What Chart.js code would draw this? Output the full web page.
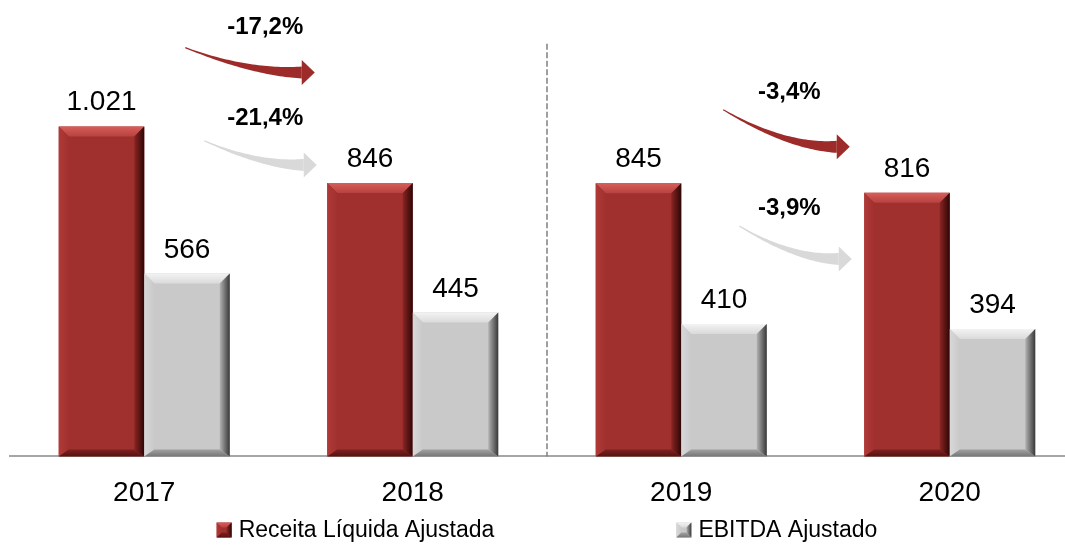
<!DOCTYPE html>
<html>
<head>
<meta charset="utf-8">
<script src="https://cdn.jsdelivr.net/npm/chart.js@4.4.1/dist/chart.umd.min.js"></script>
<style>
  html, body { margin: 0; padding: 0; background: #fff; overflow: hidden; }
  #wrap { width: 1085px; height: 545px; }
</style>
</head>
<body>
<div id="wrap"><canvas id="bar-chart" width="1085" height="545"></canvas></div>
<script>
const categories = ["2017", "2018", "2019", "2020"];
const receita = [1021, 846, 845, 816];
const ebitda = [566, 445, 410, 394];
const seriesNames = ["Receita Líquida Ajustada", "EBITDA Ajustado"];
const changeLabels = ["-17,2%", "-21,4%", "-3,4%", "-3,9%"];

const FONT = "'Liberation Sans', Arial, sans-serif";

const RED = {
  face: "#A0302E",
  top: ["#D65E5B", "#B8423F"],
  right: ["#8A2523", "#2E0606"],
  left: ["#B03A38", "#A0302E"],
  bottom: ["#7E201F", "#561212"],
};
const GREY = {
  face: "#C9C9C9",
  top: ["#F3F3F3", "#DADADA"],
  right: ["#B2B2B2", "#383838"],
  left: ["#D8D8D8", "#C9C9C9"],
  bottom: ["#A2A2A2", "#767676"],
};
const palettes = [RED, GREY];

// arrows between years: x offsets (px) from category centres, y in data units
const arrows = [
  { text: changeLabels[0], color: "#9C2B29", from: 0, to: 1, sx: 41, sy: 1265, ex: -98, ey: 1188, tx: 121, ty: 1327 },
  { text: changeLabels[1], color: "#D9D9D9", from: 0, to: 1, sx: 60, sy: 977, ex: -96, ey: 902, tx: 121, ty: 1047 },
  { text: changeLabels[2], color: "#9C2B29", from: 2, to: 3, sx: 42, sy: 1073, ex: -100, ey: 958, tx: 108, ty: 1128 },
  { text: changeLabels[3], color: "#D9D9D9", from: 2, to: 3, sx: 58, sy: 713, ex: -98, ey: 611, tx: 108, ty: 766 },
];

const fmt = (v) => String(v).replace(/\B(?=(\d{3})+(?!\d))/g, ".");

function poly(ctx, pts, fill) {
  ctx.beginPath();
  ctx.moveTo(pts[0][0], pts[0][1]);
  for (let i = 1; i < pts.length; i++) ctx.lineTo(pts[i][0], pts[i][1]);
  ctx.closePath();
  ctx.fillStyle = fill;
  ctx.fill();
}

function drawBevel(ctx, L, T, R, B, b, bb, pal) {
  let g = ctx.createLinearGradient(0, T, 0, T + b);
  g.addColorStop(0, pal.top[0]);
  g.addColorStop(1, pal.top[1]);
  poly(ctx, [[L, T], [R, T], [R - b, T + b], [L + b, T + b]], g);

  g = ctx.createLinearGradient(L, 0, L + b, 0);
  g.addColorStop(0, pal.left[0]);
  g.addColorStop(1, pal.left[1]);
  poly(ctx, [[L, T], [L + b, T + b], [L + b, B - bb], [L, B]], g);

  g = ctx.createLinearGradient(0, B - bb, 0, B);
  g.addColorStop(0, pal.bottom[0]);
  g.addColorStop(1, pal.bottom[1]);
  poly(ctx, [[L, B], [L + b, B - bb], [R - b, B - bb], [R, B]], g);

  g = ctx.createLinearGradient(R - b, 0, R, 0);
  g.addColorStop(0, pal.right[0]);
  g.addColorStop(1, pal.right[1]);
  poly(ctx, [[R, T], [R, B], [R - b, B - bb], [R - b, T + b]], g);
}

function drawArrow(ctx, S, E, color) {
  const hl = 13, hw = 12.5;
  const hb = [E[0] - hl, E[1]];
  const C = [S[0] + 0.55 * (hb[0] - S[0]), hb[1]];
  const n = 40, left = [], right = [];
  for (let i = 0; i <= n; i++) {
    const t = i / n, u = 1 - t;
    const x = u * u * S[0] + 2 * u * t * C[0] + t * t * hb[0];
    const y = u * u * S[1] + 2 * u * t * C[1] + t * t * hb[1];
    const dx = 2 * u * (C[0] - S[0]) + 2 * t * (hb[0] - C[0]);
    const dy = 2 * u * (C[1] - S[1]) + 2 * t * (hb[1] - C[1]);
    const len = Math.hypot(dx, dy) || 1;
    const w = (0.6 + 5.4 * Math.pow(t, 1.3));
    left.push([x - (dy / len) * w, y + (dx / len) * w]);
    right.push([x + (dy / len) * w, y - (dx / len) * w]);
  }
  poly(ctx, left.concat(right.reverse()), color);
  poly(ctx, [[hb[0], hb[1] - hw], [E[0], E[1]], [hb[0], hb[1] + hw]], color);
}

const bevelPlugin = {
  id: "bevel",
  afterDatasetsDraw(chart) {
    const ctx = chart.ctx;
    ctx.save();
    chart.data.datasets.forEach((ds, i) => {
      chart.getDatasetMeta(i).data.forEach((bar) => {
        const p = bar.getProps(["x", "y", "base", "width"], true);
        drawBevel(ctx, p.x - p.width / 2, p.y, p.x + p.width / 2, p.base, 10, 7, palettes[i]);
      });
    });
    ctx.restore();
  },
};

const valuePlugin = {
  id: "values",
  afterDatasetsDraw(chart) {
    const ctx = chart.ctx;
    ctx.save();
    ctx.font = "28px " + FONT;
    ctx.fillStyle = "#000";
    ctx.textAlign = "center";
    ctx.textBaseline = "alphabetic";
    chart.data.datasets.forEach((ds, i) => {
      chart.getDatasetMeta(i).data.forEach((bar, j) => {
        ctx.fillText(fmt(ds.data[j]), bar.x, bar.y - 16);
      });
    });
    ctx.restore();
  },
};

const annotationPlugin = {
  id: "annotations",
  afterDraw(chart) {
    const ctx = chart.ctx;
    const xs = chart.scales.x, ys = chart.scales.y;
    ctx.save();
    // dashed divider between 2018 and 2019
    ctx.strokeStyle = "#808080";
    ctx.lineWidth = 1.5;
    ctx.setLineDash([6, 2.5]);
    ctx.beginPath();
    const dx = xs.getPixelForValue(1.5);
    ctx.moveTo(dx, ys.getPixelForValue(1277));
    ctx.lineTo(dx, ys.getPixelForValue(0));
    ctx.stroke();
    ctx.setLineDash([]);

    ctx.font = "bold 24px " + FONT;
    ctx.textAlign = "center";
    ctx.textBaseline = "middle";
    arrows.forEach((a) => {
      const c0 = xs.getPixelForValue(a.from), c1 = xs.getPixelForValue(a.to);
      drawArrow(ctx, [c0 + a.sx, ys.getPixelForValue(a.sy)], [c1 + a.ex, ys.getPixelForValue(a.ey)], a.color);
      ctx.fillStyle = "#000";
      ctx.fillText(a.text, c0 + a.tx, ys.getPixelForValue(a.ty));
    });
    ctx.restore();
  },
};

const legendPlugin = {
  id: "bevelLegend",
  afterDraw(chart) {
    const ctx = chart.ctx;
    const area = chart.chartArea;
    ctx.save();
    ctx.font = "23px " + FONT;
    ctx.textBaseline = "middle";
    ctx.textAlign = "left";
    const box = 15, gap = 7, itemGap = 182, y = 530;
    const widths = chart.data.datasets.map((ds) => box + gap + ctx.measureText(ds.label).width);
    const total = widths.reduce((s, w) => s + w, 0) + itemGap * (widths.length - 1);
    let x = (area.left + area.right) / 2 - total / 2;
    chart.data.datasets.forEach((ds, i) => {
      const pal = palettes[i];
      ctx.fillStyle = pal.face;
      ctx.fillRect(x, y - box / 2, box, box);
      drawBevel(ctx, x, y - box / 2, x + box, y + box / 2, 5, 5, pal);
      ctx.fillStyle = "#000";
      ctx.fillText(ds.label, x + box + gap, y + 1);
      x += widths[i] + itemGap;
    });
    ctx.restore();
  },
};

new Chart(document.getElementById("bar-chart").getContext("2d"), {
  type: "bar",
  data: {
    labels: categories,
    datasets: [
      { label: seriesNames[0], data: receita, backgroundColor: RED.face, borderWidth: 0 },
      { label: seriesNames[1], data: ebitda, backgroundColor: GREY.face, borderWidth: 0 },
    ],
  },
  options: {
    responsive: false,
    animation: false,
    events: [],
    layout: { padding: { left: 10, right: 1, top: 4, bottom: 15 } },
    datasets: { bar: { categoryPercentage: 0.637, barPercentage: 1 } },
    plugins: { legend: { display: false }, tooltip: { enabled: false } },
    scales: {
      x: {
        grid: { display: false, drawTicks: false },
        border: { display: true, color: "#A6A6A6", width: 2 },
        ticks: { color: "#000", font: { family: FONT, size: 28 }, padding: 20 },
      },
      y: { display: false, min: 0, max: 1400 },
    },
  },
  plugins: [bevelPlugin, valuePlugin, annotationPlugin, legendPlugin],
});
</script>
</body>
</html>
